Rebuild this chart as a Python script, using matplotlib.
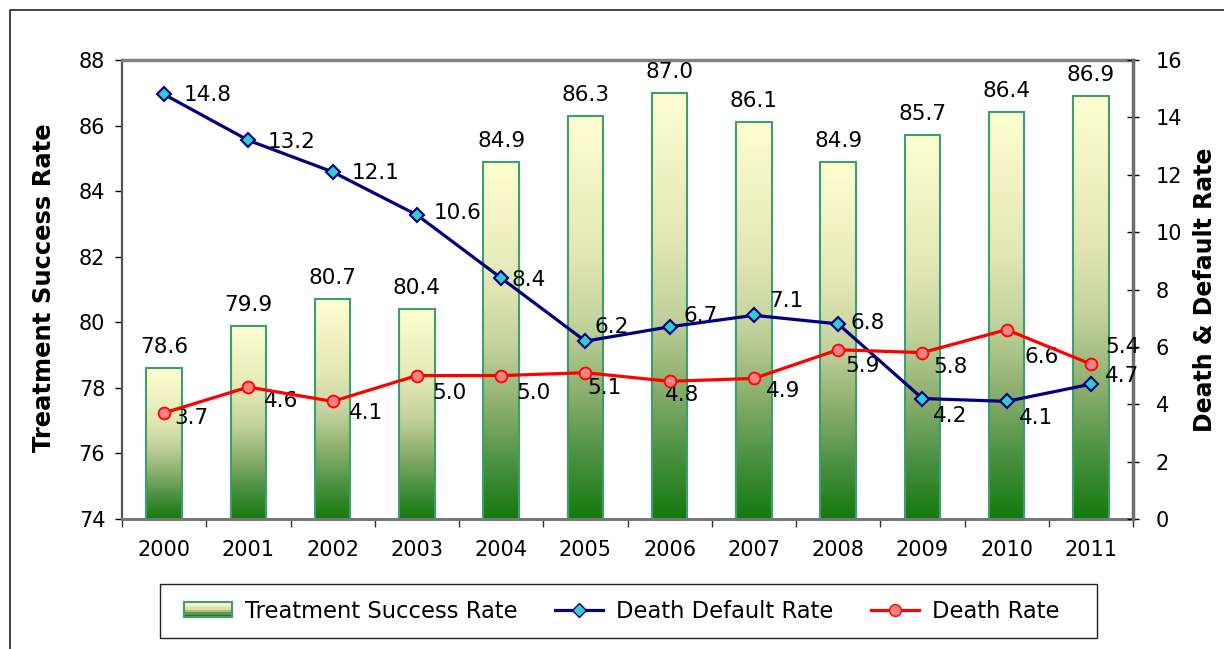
import matplotlib
matplotlib.use("Agg")
import matplotlib.pyplot as plt
import numpy as np
from matplotlib.colors import LinearSegmentedColormap
from matplotlib.patches import Rectangle
from matplotlib.lines import Line2D
from matplotlib.legend_handler import HandlerBase

# data
years = ["2000", "2001", "2002", "2003", "2004", "2005",
         "2006", "2007", "2008", "2009", "2010", "2011"]
success_rate = [78.6, 79.9, 80.7, 80.4, 84.9, 86.3, 87.0, 86.1, 84.9, 85.7, 86.4, 86.9]
default_rate = [14.8, 13.2, 12.1, 10.6, 8.4, 6.2, 6.7, 7.1, 6.8, 4.2, 4.1, 4.7]
death_rate = [3.7, 4.6, 4.1, 5.0, 5.0, 5.1, 4.8, 4.9, 5.9, 5.8, 6.6, 5.4]

# label nudges in pixels (dx right, dy down)
default_offsets = [(20, 1), (19, 2), (19, 1), (17, -2), (10, 2), (9, -14),
                   (14, -11), (15, -14), (12, -1), (11, 17), (12, 17), (14, -8)]
death_offsets = [(10, 5), (16, 14), (16, 12), (15, 17), (15, 17), (2, 15),
                 (-5, 14), (12, 13), (7, 16), (11, 14), (18, 27), (14, -17)]

bar_cmap = LinearSegmentedColormap.from_list(
    "bar", [(0.0, "#167a0e"), (0.15, "#4a9040"), (0.32, "#8fb070"),
            (0.48, "#c2d29c"), (0.65, "#e2e6b4"), (1.0, "#ffffd2")])
bar_edge = "#3e9e6e"

FS = 15

fig = plt.figure(figsize=(12.24, 6.49), dpi=100)
W, H = 1224, 649
ax = fig.add_axes([122 / W, 1 - 519 / H, (1133 - 122) / W, (519 - 60) / H])
x = np.arange(len(years))

# bars: outline from ax.bar, gradient image clipped to each bar
bars = ax.bar(x, success_rate, width=0.42, facecolor="none",
              edgecolor=bar_edge, linewidth=1.5, zorder=3)
grad = np.linspace(0, 1, 256).reshape(-1, 1)
for b in bars:
    im = ax.imshow(grad, cmap=bar_cmap, origin="lower", aspect="auto",
                   extent=[b.get_x(), b.get_x() + b.get_width(), 74, b.get_height()],
                   interpolation="bicubic", zorder=2)
    im.set_clip_path(b)
for xi, v in zip(x, success_rate):
    ax.annotate(f"{v:.1f}", (xi, v), xytext=(0, 21), textcoords="offset pixels",
                ha="center", va="center", fontsize=FS + 0.5, zorder=5)

ax.set_xlim(-0.5, len(years) - 0.5)
ax.set_ylim(74, 88)
ax.set_yticks(np.arange(74, 89, 2))
ax.set_xticks(x)
ax.set_xticklabels(years)
ax.set_xticks(np.arange(-0.5, len(years), 1), minor=True)
ax.tick_params(axis="x", which="major", length=0, pad=15, labelsize=FS)
ax.tick_params(axis="x", which="minor", length=6, width=1, color="#333333")
ax.tick_params(axis="y", length=5, width=1, pad=7, labelsize=FS, direction="out")
ax.spines["left"].set_color("#555555")
ax.spines["left"].set_linewidth(1.6)
ax.spines["bottom"].set_color("#777777")
ax.spines["bottom"].set_linewidth(2.2)
ax.spines["top"].set_color("#808080")
ax.spines["top"].set_linewidth(2.5)
ax.spines["right"].set_visible(False)

# rates on the secondary axis
ax2 = ax.twinx()
ax2.set_ylim(0, 16)
ax2.set_yticks(np.arange(0, 17, 2))
ax2.tick_params(axis="y", direction="inout", length=9, width=1, pad=12, labelsize=FS)
ax2.spines["right"].set_color("#6e6e6e")
ax2.spines["right"].set_linewidth(2.5)
for s in ["top", "left", "bottom"]:
    ax2.spines[s].set_visible(False)

ax2.plot(x, default_rate, color="#000080", lw=2.3, marker="D", markersize=7,
         markerfacecolor="#33cccc", markeredgecolor="#000080", markeredgewidth=1.5,
         zorder=4)
ax2.plot(x, death_rate, color="#ff0000", lw=2.3, marker="o", markersize=8.5,
         markerfacecolor="#ff8080", markeredgecolor="#ff0000", markeredgewidth=1.3,
         zorder=4)
for xi, v, (dx, dy) in zip(x, default_rate, default_offsets):
    ax2.annotate(f"{v:.1f}", (xi, v), xytext=(dx, -dy), textcoords="offset pixels",
                 ha="left", va="center", fontsize=FS + 0.5)
for xi, v, (dx, dy) in zip(x, death_rate, death_offsets):
    ax2.annotate(f"{v:.1f}", (xi, v), xytext=(dx, -dy), textcoords="offset pixels",
                 ha="left", va="center", fontsize=FS + 0.5)

fig.text(44 / W, 1 - 288 / H, "Treatment Success Rate", rotation=90,
         ha="center", va="center", fontsize=17.5, fontweight="bold")
fig.text(1205 / W, 1 - 290 / H, "Death & Default Rate", rotation=90,
         ha="center", va="center", fontsize=17, fontweight="bold")


class GradientHandler(HandlerBase):
    def create_artists(self, legend, orig_handle, xdescent, ydescent,
                       width, height, fontsize, trans):
        n = 6
        h = height * 0.95
        y0 = -ydescent + 0.02 * height
        out = []
        for i in range(n):
            out.append(Rectangle((-xdescent, y0 + i * h / n), width, h / n,
                                 facecolor=bar_cmap(i / (n - 1)), edgecolor="none",
                                 transform=trans))
        out.append(Rectangle((-xdescent, y0), width, h, facecolor="none",
                             edgecolor=bar_edge, lw=1.5, transform=trans))
        return out


bar_handle = Rectangle((0, 0), 1, 1)
h_default = Line2D([], [], color="#000080", lw=2.3, marker="D", markersize=7,
                   markerfacecolor="#33cccc", markeredgecolor="#000080")
h_death = Line2D([], [], color="#ff0000", lw=2.3, marker="o", markersize=8.5,
                 markerfacecolor="#ff8080", markeredgecolor="#ff0000")

# legend box
fig.patches.append(Rectangle((160 / W, 1 - 638 / H), 937 / W, 54 / H,
                             transform=fig.transFigure, facecolor="white",
                             edgecolor="#222222", lw=1))
fig.legend([bar_handle, h_default, h_death],
           ["Treatment Success Rate", "Death Default Rate", "Death Rate"],
           handler_map={Rectangle: GradientHandler()},
           loc="center", bbox_to_anchor=(622 / W, 1 - 611 / H), ncol=3,
           frameon=False, fontsize=16.3, handlelength=2.1, handletextpad=0.6,
           columnspacing=1.65)

# outer frame
fig.add_artist(Line2D([9.5 / W, 9.5 / W, 1.0], [0, 1 - 9.5 / H, 1 - 9.5 / H],
                      transform=fig.transFigure, color="#333333", lw=1.3))

fig.savefig("out.png", dpi=100)
